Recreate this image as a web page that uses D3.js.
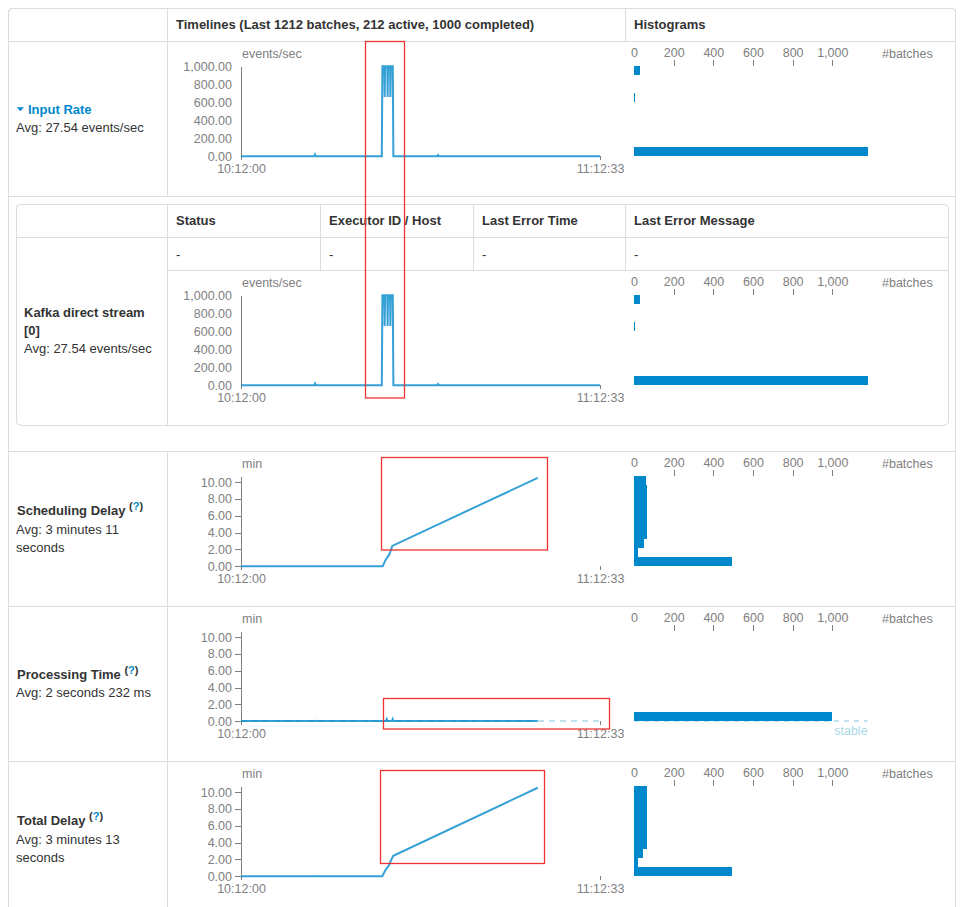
<!DOCTYPE html>
<html>
<head>
<meta charset="utf-8">
<script src="https://cdn.jsdelivr.net/npm/d3@7"></script>
<style>
    body { margin: 0; background: #fff; }
    text { font-family: "Liberation Sans", Arial, Helvetica, sans-serif; }
    .axis text { fill: #808080; font-size: 12.5px; }
    .axis path, .axis line { stroke: #808080; fill: none; shape-rendering: crispEdges; }
    .unit { fill: #808080; font-size: 12.5px; }
    .cell { fill: #333; font-size: 13px; }
    .grid { stroke: #dddddd; stroke-width: 1; fill: none; shape-rendering: crispEdges; }
    .bar { shape-rendering: crispEdges; }
</style>
</head>
<body>
<svg id="page"></svg>
<script>
// time axis of every timeline
var timeRange = ["10:12:00", "11:12:33"]
var rateTicks = [0, 200, 400, 600, 800, 1000]
var minTicks = [0, 2, 4, 6, 8, 10]
var histTicks = [0, 200, 400, 600, 800, 1000]

var rateMax = 1000
var minMax = 10.68
var histMax = 1178
var batchInterval = 0.05 // 3 seconds, in minutes

// input rate (events/sec)
var inputRateTimes = ["10:12:00", "10:24:20", "10:24:29", "10:24:38", "10:35:45", "10:35:51", "10:36:10", "10:36:14",
    "10:36:18", "10:36:40", "10:36:44", "10:36:48", "10:37:08", "10:37:12", "10:37:16", "10:37:36", "10:37:42",
    "10:45:05", "10:45:14", "10:45:23", "11:12:33"]
var inputRateValues = [0, 0, 22, 0, 0, 1000, 1000, 660, 1000, 1000, 660, 1000, 1000, 660, 1000, 1000, 0, 0, 15, 0, 0]

// kafka direct stream [0] is the only receiver, same curve
var kafkaTimes = inputRateTimes
var kafkaValues = inputRateValues

// scheduling delay (min)
var schedTimes = ["10:12:00", "10:35:54", "10:36:20", "10:36:58", "10:37:12", "10:37:31", "11:02:03"]
var schedValues = [0, 0, 0.7, 1.35, 1.75, 2.42, 10.5]

// processing time (min)
var procTimes = ["10:12:00", "10:24:20", "10:24:29", "10:24:38", "10:36:28", "10:36:35", "10:36:42", "10:37:28",
    "10:37:35", "10:37:42", "11:02:03"]
var procValues = [0.03, 0.03, 0.07, 0.03, 0.03, 0.25, 0.03, 0.03, 0.25, 0.03, 0.03]

// total delay (min)
var totalTimes = ["10:12:00", "10:24:20", "10:24:29", "10:24:38", "10:35:50", "10:36:20", "10:36:58", "10:37:12",
    "10:37:41", "11:02:03"]
var totalValues = [0, 0, 0.06, 0, 0, 0.7, 1.3, 1.75, 2.44, 10.51]

// histogram bins, lowest bin first (#batches)
var inputRateHist = [1178, 0, 0, 0, 0, 0, 5, 0, 0, 29]
var kafkaHist = [1178, 0, 0, 0, 0, 0, 5, 0, 0, 29]
var schedHist = [493, 18, 49, 64, 64, 64, 64, 64, 64, 60]
var procHist = [1000, 0, 0, 0, 0, 0, 0, 0, 0, 0]
var totalHist = [492, 18, 45, 64, 64, 64, 64, 64, 64, 64]

var W = 964, H = 907
var tlLeft = 241, tlWidth = 359, chartH = 90
var histLeft = 634, histWidth = 233.6
var lineColor = "#0088cc"

var parseT = d3.timeParse("%H:%M:%S")
var fmtT = d3.timeFormat("%H:%M:%S")

var svg = d3.select("#page").attr("width", W).attr("height", H)
svg.append("rect").attr("width", W).attr("height", H).attr("fill", "#fff")

drawTable()

var charts = [
    { top: 66.3, times: inputRateTimes, values: inputRateValues, max: rateMax, ticks: rateTicks, unit: "events/sec", hist: inputRateHist, tickLines: false },
    { top: 295.3, times: kafkaTimes, values: kafkaValues, max: rateMax, ticks: rateTicks, unit: "events/sec", hist: kafkaHist, tickLines: false },
    { top: 476.3, times: schedTimes, values: schedValues, max: minMax, ticks: minTicks, unit: "min", hist: schedHist, tickLines: true },
    { top: 631.3, times: procTimes, values: procValues, max: minMax, ticks: minTicks, unit: "min", hist: procHist, tickLines: true, stable: batchInterval },
    { top: 786.3, times: totalTimes, values: totalValues, max: minMax, ticks: minTicks, unit: "min", hist: totalHist, tickLines: true }
]

charts.forEach(function (c) {
    drawTimeline(c)
    drawHistogram(c)
})

drawMarks()

function drawTable() {
    var t = svg.append("g")
    // outer table
    t.append("path").attr("class", "grid")
        .attr("d", "M8.5,910 V12.5 Q8.5,8.5 12.5,8.5 H951.5 Q955.5,8.5 955.5,12.5 V910")
    ;[41.5, 196.5, 451.5, 606.5, 761.5].forEach(function (y) {
        t.append("line").attr("class", "grid").attr("x1", 8.5).attr("x2", 955.5).attr("y1", y).attr("y2", y)
    })
    t.append("line").attr("class", "grid").attr("x1", 167.5).attr("x2", 167.5).attr("y1", 8.5).attr("y2", 196.5)
    t.append("line").attr("class", "grid").attr("x1", 167.5).attr("x2", 167.5).attr("y1", 451.5).attr("y2", 910)
    t.append("line").attr("class", "grid").attr("x1", 625.5).attr("x2", 625.5).attr("y1", 8.5).attr("y2", 41.5)

    // nested receiver table
    t.append("rect").attr("class", "grid").attr("x", 16.5).attr("y", 204.5).attr("width", 932).attr("height", 220.5).attr("rx", 4)
    t.append("line").attr("class", "grid").attr("x1", 16.5).attr("x2", 948.5).attr("y1", 237.5).attr("y2", 237.5)
    t.append("line").attr("class", "grid").attr("x1", 167.5).attr("x2", 948.5).attr("y1", 270.5).attr("y2", 270.5)
    t.append("line").attr("class", "grid").attr("x1", 167.5).attr("x2", 167.5).attr("y1", 204.5).attr("y2", 425)
    ;[320.5, 473.5, 625.5].forEach(function (x) {
        t.append("line").attr("class", "grid").attr("x1", x).attr("x2", x).attr("y1", 204.5).attr("y2", 270.5)
    })

    function label(x, y, str, bold, color) {
        return t.append("text").attr("class", "cell").attr("x", x).attr("y", y).attr("dy", "0.35em")
            .style("font-weight", bold ? "bold" : "normal")
            .style("fill", color || "#333").text(str)
    }

    label(176, 24.7, "Timelines (Last 1212 batches, 212 active, 1000 completed)", true)
    label(634, 24.7, "Histograms", true)

    // input rate
    t.append("path").attr("d", "M16.7,107.3 L24,107.3 L20.35,111.2 Z").attr("fill", lineColor)
    label(28, 109.7, "Input Rate", true, lineColor)
    label(16, 127.7, "Avg: 27.54 events/sec")

    // receiver table
    label(176, 220.3, "Status", true)
    label(329, 220.3, "Executor ID / Host", true)
    label(482, 220.3, "Last Error Time", true)
    label(634, 220.3, "Last Error Message", true)
    ;[176, 329, 482, 634].forEach(function (x) { label(x, 254, "-") })
    label(24, 312.3, "Kafka direct stream", true)
    label(24, 330.7, "[0]", true)
    label(24, 348.3, "Avg: 27.54 events/sec")

    // delay rows
    var rowsText = [
        { y: 510.7, name: "Scheduling Delay", avg: ["Avg: 3 minutes 11", "seconds"] },
        { y: 674.3, name: "Processing Time", avg: ["Avg: 2 seconds 232 ms"] },
        { y: 820.7, name: "Total Delay", avg: ["Avg: 3 minutes 13", "seconds"] }
    ]
    rowsText.forEach(function (r) {
        var tx = t.append("text").attr("class", "cell").attr("x", 17).attr("y", r.y).attr("dy", "0.35em")
            .style("font-weight", "bold")
        tx.append("tspan").text(r.name + " ")
        tx.append("tspan").attr("dy", -5).style("font-size", "11px").text("(")
        tx.append("tspan").style("font-size", "11px").style("fill", lineColor).text("?")
        tx.append("tspan").style("font-size", "11px").text(")")
        r.avg.forEach(function (s, i) { label(16, r.y + 18.3 + i * 18, s) })
    })
}

function drawTimeline(c) {
    var g = svg.append("g").attr("transform", "translate(" + tlLeft + "," + c.top + ")")

    var x = d3.scaleTime().domain(timeRange.map(parseT)).range([0, tlWidth])
    var y = d3.scaleLinear().domain([0, c.max]).range([chartH, 0])

    var yAxis = d3.axisLeft(y).tickValues(c.ticks).tickFormat(d3.format(",.2f")).tickSizeOuter(0)
    if (!c.tickLines) yAxis.tickSizeInner(0).tickPadding(9)
    g.append("g").attr("class", "axis").call(yAxis)

    g.append("g").attr("class", "axis")
        .attr("transform", "translate(0," + chartH + ")")
        .call(d3.axisBottom(x).tickValues(timeRange.map(parseT)).tickFormat(fmtT).tickSize(4).tickPadding(4))
        .select(".domain").remove()

    g.append("text").attr("class", "unit").attr("x", 1).attr("y", -13).attr("dy", "0.35em").text(c.unit)

    if (c.stable != null) {
        g.append("line")
            .attr("x1", 0).attr("x2", tlWidth)
            .attr("y1", y(c.stable)).attr("y2", y(c.stable))
            .attr("stroke", "lightblue").attr("stroke-width", 1.5)
            .attr("stroke-dasharray", "6,5")
    }

    var line = d3.line()
        .x((d, i) => x(parseT(c.times[i])))
        .y(d => y(d))

    g.append("path")
        .datum(c.values)
        .attr("d", line)
        .attr("fill", "none")
        .attr("stroke", lineColor)
        .attr("stroke-opacity", 0.8)
        .attr("stroke-width", 2)
}

function drawHistogram(c) {
    var g = svg.append("g").attr("transform", "translate(" + histLeft + "," + c.top + ")")

    var x = d3.scaleLinear().domain([0, histMax]).range([0, histWidth])
    var y = d3.scaleLinear().domain([0, c.max]).range([chartH, 0])
    var dx = c.max / c.hist.length

    var ax = g.append("g").attr("class", "axis")
        .call(d3.axisTop(x).tickValues(histTicks).tickFormat(d3.format(",")).tickSize(6))
    ax.select(".domain").remove()
    ax.selectAll(".tick").filter(d => d === 0).select("line").remove()

    g.append("text").attr("class", "unit").attr("x", 248).attr("y", -13).attr("dy", "0.35em").text("#batches")

    if (c.stable != null) {
        g.append("line")
            .attr("x1", 0).attr("x2", histWidth)
            .attr("y1", y(c.stable)).attr("y2", y(c.stable))
            .attr("stroke", "lightblue").attr("stroke-width", 1.5)
            .attr("stroke-dasharray", "5,5")
        g.append("text").attr("x", histWidth).attr("y", y(c.stable) + 10).attr("dy", "0.35em")
            .attr("text-anchor", "end")
            .style("fill", "lightblue").style("font-size", "12.5px")
            .text("stable")
    }

    g.selectAll("rect.bar")
        .data(c.hist)
        .join("rect")
        .attr("class", "bar")
        .attr("x", 0)
        .attr("y", (d, i) => Math.round(y((i + 1) * dx)))
        .attr("width", d => x(d))
        .attr("height", (d, i) => Math.round(y(i * dx)) - Math.round(y((i + 1) * dx)))
        .attr("fill", lineColor)
}

// red boxes marked on the screenshot
function drawMarks() {
    var boxes = [
        [365.5, 41.5, 404.5, 398],
        [381.5, 457.5, 547.5, 550],
        [383.5, 698.5, 609.5, 729],
        [380.5, 770.5, 544.5, 863.5]
    ]
    svg.selectAll("rect.mark")
        .data(boxes)
        .join("rect")
        .attr("class", "mark")
        .attr("x", d => d[0]).attr("y", d => d[1])
        .attr("width", d => d[2] - d[0]).attr("height", d => d[3] - d[1])
        .attr("fill", "none")
        .attr("stroke", "#ee3333")
        .attr("stroke-width", 1.3)
}
</script>
</body>
</html>
